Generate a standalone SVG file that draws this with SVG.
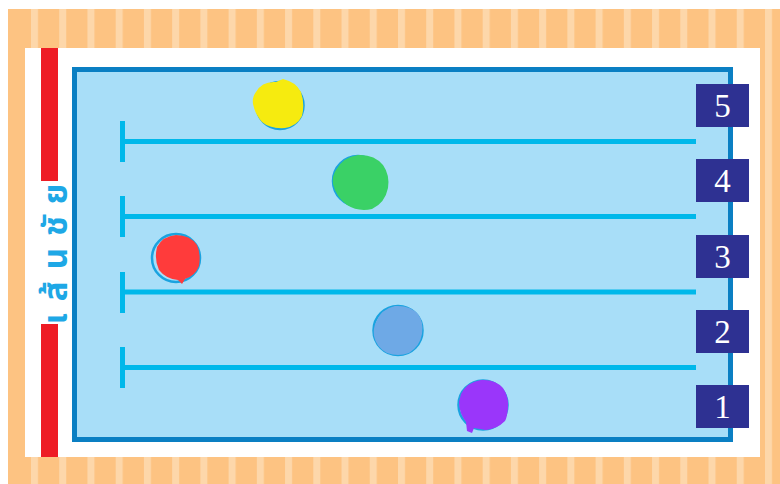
<svg xmlns="http://www.w3.org/2000/svg" width="780" height="484" viewBox="0 0 780 484">
<style>
.lane{stroke:#00b8ea;stroke-width:5;fill:none}
.box{fill:#2e3192}
.num{font-family:"Liberation Serif","DejaVu Serif",serif;font-size:33px;fill:#ffffff;text-anchor:middle}
.ring{fill:none;stroke:#1aa3e0;stroke-width:2.5}
.finish{font-family:"Noto Sans Thai","Noto Sans","DejaVu Sans",sans-serif;font-size:33px;fill:#1ea8e6;font-weight:bold}
</style>
<defs>
<pattern id="stripes" patternUnits="userSpaceOnUse" x="31" y="0" width="28.23" height="484">
<rect x="0" y="0" width="28.23" height="484" fill="#fdc382"/>
<rect x="0" y="0" width="7" height="484" fill="#fdd7aa"/>
</pattern>
</defs>
<rect x="0" y="0" width="780" height="484" fill="#ffffff"/>
<rect x="8" y="9" width="772" height="475" fill="url(#stripes)"/>
<rect x="8" y="9" width="17" height="475" fill="#fdc382"/>
<rect x="25" y="48" width="735" height="409" fill="#ffffff"/>
<g id="finish-line">
<rect x="41" y="48" width="17" height="133" fill="#ee1c25"/>
<rect x="41" y="324" width="17" height="133" fill="#ee1c25"/>
<text class="finish" transform="translate(67,248) rotate(-90)" text-anchor="middle" letter-spacing="12">เส้นชัย</text>
</g>
<g id="pool">
<rect x="74.5" y="69.5" width="656" height="370" fill="#a8def8" stroke="#0a7fc3" stroke-width="5"/>
</g>
<g id="connectors">
<line class="lane" x1="122.5" y1="121" x2="122.5" y2="162"/>
<line class="lane" x1="122" y1="141.5" x2="696" y2="141.5"/>
<line class="lane" x1="122.5" y1="196" x2="122.5" y2="237"/>
<line class="lane" x1="122" y1="216.5" x2="696" y2="216.5"/>
<line class="lane" x1="122.5" y1="272" x2="122.5" y2="313"/>
<line class="lane" x1="122" y1="292" x2="696" y2="292"/>
<line class="lane" x1="122.5" y1="347" x2="122.5" y2="388"/>
<line class="lane" x1="122" y1="367.5" x2="696" y2="367.5"/>
</g>
<g id="lane-5"><rect class="box" x="696" y="84" width="53" height="43"/><text class="num" x="722.5" y="117">5</text></g>
<g id="lane-4"><rect class="box" x="696" y="159" width="53" height="43"/><text class="num" x="722.5" y="192">4</text></g>
<g id="lane-3"><rect class="box" x="696" y="235" width="53" height="43"/><text class="num" x="722.5" y="268">3</text></g>
<g id="lane-2"><rect class="box" x="696" y="310" width="53" height="43"/><text class="num" x="722.5" y="343">2</text></g>
<g id="lane-1"><rect class="box" x="696" y="385" width="53" height="43"/><text class="num" x="722.5" y="418">1</text></g>
<g id="ball-yellow">
<circle class="ring" cx="280" cy="105.5" r="23.5"/>
<path d="M256 92 Q262 81 276 82 L283 79 Q296 82 301 92 Q305 104 302 116 Q297 126 285 128 Q270 129 262 122 Q255 114 253 104 Q252 97 256 92 Z" fill="#f6eb0f"/>
</g>
<g id="ball-green">
<circle class="ring" cx="358" cy="181" r="25"/>
<path d="M336 170 Q343 157 358 155 Q374 154 383 165 Q390 175 388 188 Q385 203 372 209 Q358 212 347 205 Q336 197 333 184 Q332 176 336 170 Z" fill="#3ad166"/>
</g>
<g id="ball-red">
<circle class="ring" cx="176" cy="258" r="24"/>
<path d="M157 247 Q163 236 176 235 Q190 235 197 245 Q201 254 199 266 Q195 276 185 279 L182 284 L178 280 Q166 279 159 270 Q154 260 157 247 Z" fill="#ff3b3b"/>
</g>
<g id="ball-blue">
<circle class="ring" cx="398" cy="330.5" r="24.5"/>
<path d="M376 322 Q381 309 395 306 Q410 305 418 314 Q424 322 422 334 Q420 346 409 353 Q398 357 387 353 Q376 347 374 336 Q373 328 376 322 Z" fill="#6ea9e6"/>
</g>
<g id="ball-purple">
<circle class="ring" cx="483" cy="405" r="24.5"/>
<path d="M461 394 Q467 382 481 380 Q495 379 503 388 Q509 397 508 408 Q507 418 505 421 Q497 429 486 430 L474 428 L472 433 L467 431 L466 422 Q459 413 459 402 Z" fill="#9a36fa"/>
</g>
</svg>
